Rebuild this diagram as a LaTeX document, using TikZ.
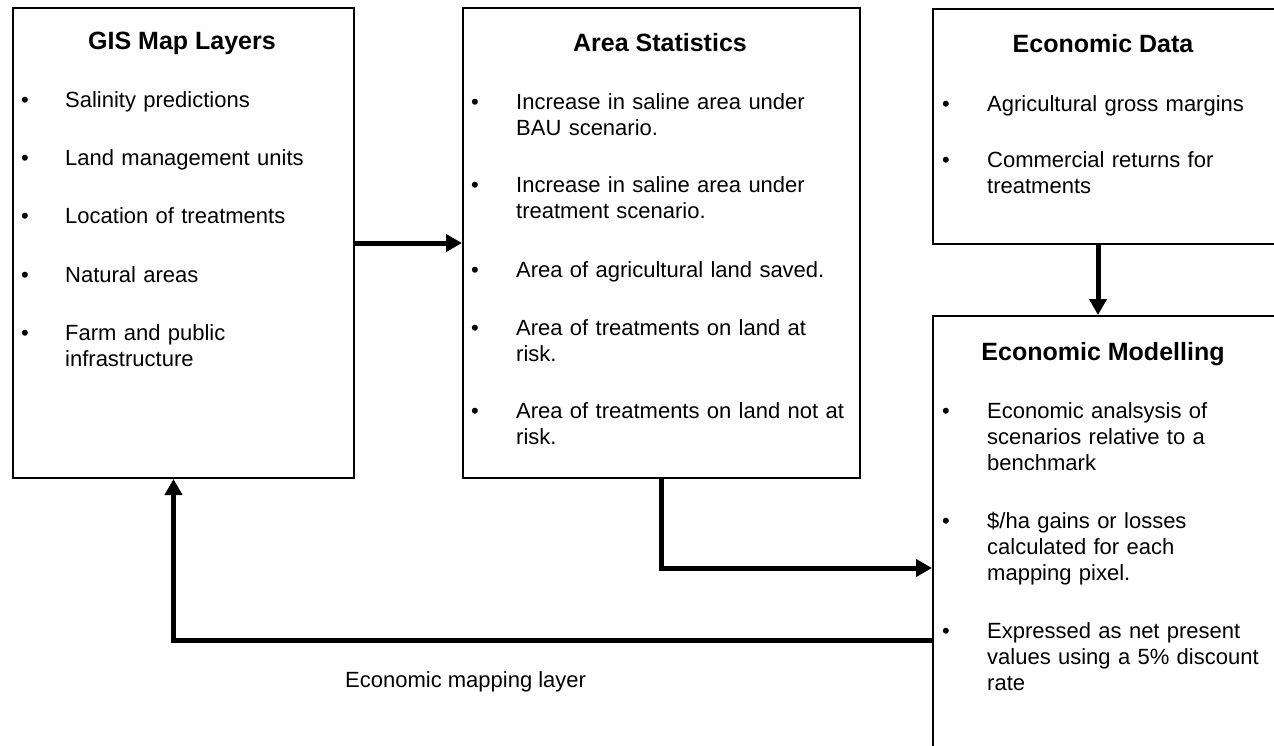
\documentclass[tikz,border=0pt]{standalone}
\usepackage{fontspec}
\setmainfont{Liberation Sans}
\usetikzlibrary{arrows.meta}

\begin{document}
\begin{tikzpicture}[x=1pt, y=-1pt, font=\fontsize{22}{26}\selectfont]
    % Define colours
    \definecolor{borderColour}{HTML}{000000}

    % Define styles
    \tikzset{
        boxStyle/.style={draw=borderColour, line width=2pt, inner sep=0pt, anchor=north west},
        flowArrow/.style={draw=borderColour, line width=5pt, -{Triangle[length=16pt,width=17pt]}},
        titleText/.style={font=\fontsize{25}{30}\selectfont\bfseries, anchor=base, inner sep=0pt},
        itemText/.style={text width=330pt, align=left, anchor=base west, inner sep=0pt},
        bulletMark/.style={anchor=base, inner sep=0pt}
    }

    % Fix page size
    \useasboundingbox (0,0) rectangle (1274,746);

    % Draw boxes
    \node[boxStyle, minimum width=341pt, minimum height=470pt] (gis) at (12,7) {};
    \node[boxStyle, minimum width=397pt, minimum height=470pt] (area) at (462,7) {};
    \node[boxStyle, minimum width=360pt, minimum height=235pt] (ecoData) at (932,8) {};
    \node[boxStyle, minimum width=360pt, minimum height=460pt] (ecoModel) at (932,315) {};

    % Box titles
    \node[titleText] (gisTitle) at (182,50) {GIS Map Layers};
    \node[titleText] (areaTitle) at (660,52) {Area Statistics};
    \node[titleText] (ecoDataTitle) at (1103,53) {Economic Data};
    \node[titleText] (ecoModelTitle) at (1103,360) {Economic Modelling};

    % GIS items
    \foreach \yb/\txt in {108/Salinity predictions, 166/Land management units,
        224/Location of treatments, 282/Natural areas,
        340/{Farm and public\\infrastructure}} {
        \node[bulletMark] (gisBullet\yb) at (25,\yb) {•};
        \node[itemText] (gisItem\yb) at (65,\yb) {\txt};
    }

    % Area items
    \foreach \yb/\txt in {110/{Increase in saline area under\\BAU scenario.},
        193/{Increase in saline area under\\treatment scenario.},
        277/Area of agricultural land saved.,
        335/{Area of treatments on land at\\risk.},
        418/{Area of treatments on land not at\\risk.}} {
        \node[bulletMark] (areaBullet\yb) at (475,\yb) {•};
        \node[itemText] (areaItem\yb) at (516,\yb) {\txt};
    }

    % Economic data items
    \foreach \yb/\txt in {112/Agricultural gross margins,
        168/{Commercial returns for\\treatments}} {
        \node[bulletMark] (dataBullet\yb) at (946,\yb) {•};
        \node[itemText] (dataItem\yb) at (987,\yb) {\txt};
    }

    % Economic modelling items
    \foreach \yb/\txt in {418/{Economic analsysis of\\scenarios relative to a\\benchmark},
        528/{\$/ha gains or losses\\calculated for each\\mapping pixel.},
        638/{Expressed as net present\\values using a 5\% discount\\rate}} {
        \node[bulletMark] (modelBullet\yb) at (946,\yb) {•};
        \node[itemText] (modelItem\yb) at (987,\yb) {\txt};
    }

    % Connectors
    \coordinate (modelIn) at (ecoModel.west |- 0,568);
    \coordinate (modelOut) at (ecoModel.west |- 0,640);
    \draw[flowArrow] (gis.east) -- (area.west);
    \draw[flowArrow] (area.south) |- (modelIn);
    \draw[flowArrow] ([xshift=-15pt]ecoData.south) -- ([xshift=-15pt]ecoModel.north);
    \draw[flowArrow] (modelOut) -| ([xshift=-10pt]gis.south);

    % Feedback label
    \node[anchor=base west, inner sep=0pt] (mapLabel) at (345,687) {Economic mapping layer};

\end{tikzpicture}
\end{document}
